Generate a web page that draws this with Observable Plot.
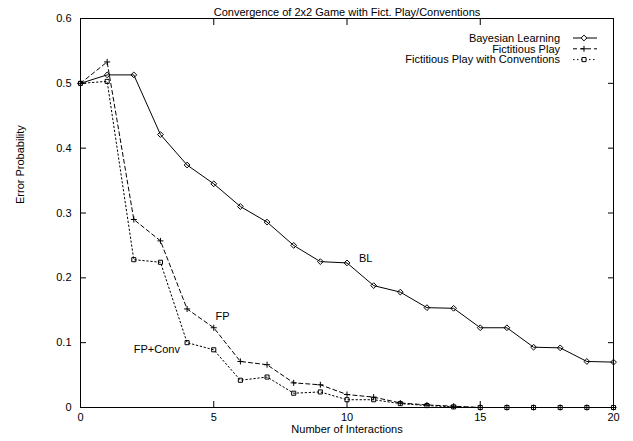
<!DOCTYPE html>
<html>
<head>
<meta charset="utf-8">
<script src="https://cdn.jsdelivr.net/npm/d3@7"></script>
<script src="https://cdn.jsdelivr.net/npm/@observablehq/plot@0.6"></script>
<style>
  html, body { margin: 0; padding: 0; background: #fff; }
  #chart svg { display: block; }
</style>
</head>
<body>
<div id="chart"></div>
<script>
const title = "Convergence of 2x2 Game with Fict. Play/Conventions";
const xLabel = "Number of Interactions";
const yLabel = "Error Probability";
const interactions = [0,1,2,3,4,5,6,7,8,9,10,11,12,13,14,15,16,17,18,19,20];
const bayesian = [0.5,0.513,0.513,0.421,0.374,0.345,0.310,0.286,0.250,0.225,0.223,0.188,0.178,0.154,0.153,0.123,0.123,0.093,0.092,0.071,0.070];
const fictitious = [0.5,0.533,0.290,0.257,0.152,0.123,0.071,0.066,0.038,0.035,0.020,0.016,0.007,0.004,0.002,0,0,0,0,0,0];
const fictConv = [0.5,0.503,0.228,0.224,0.100,0.089,0.042,0.047,0.022,0.024,0.012,0.012,0.006,0.003,0.001,0,0,0,0,0,0];
const seriesNames = ["Bayesian Learning", "Fictitious Play", "Fictitious Play with Conventions"];
const xTicks = [0,5,10,15,20];
const yTicks = [0,0.1,0.2,0.3,0.4,0.5,0.6];
const annotations = [
  {x: 10.45, y: 0.230, label: "BL"},
  {x: 5.07, y: 0.140, label: "FP"},
  {x: 2.0, y: 0.0895, label: "FP+Conv"}
];

const seriesValues = [bayesian, fictitious, fictConv];
const styles = [
  {dash: null, symbol: "diamond2", r: 2.6},
  {dash: "4,3", symbol: "plus", r: 2.1},
  {dash: "1.5,2.5", symbol: "square2", r: 2.6}
];
const data = [];
seriesNames.forEach((name, i) => {
  interactions.forEach((x, j) => data.push({series: name, x, y: seriesValues[i][j]}));
});

const font = "'Liberation Sans', Arial, Helvetica, sans-serif";

const lineMarks = [];
seriesNames.forEach((name, i) => {
  const d = data.filter(r => r.series === name);
  lineMarks.push(Plot.line(d, {x: "x", y: "y", stroke: "black", strokeWidth: 1, strokeDasharray: styles[i].dash}));
  lineMarks.push(Plot.dot(d, {x: "x", y: "y", symbol: () => styles[i].symbol, r: styles[i].r, stroke: "black", strokeWidth: 1, fill: "none"}));
});

function legendMark(index, scales, values, dims) {
  const svg = d3.create("svg:g");
  const right = dims.width - dims.marginRight;
  const top = dims.marginTop;
  seriesNames.forEach((name, i) => {
    const yy = top + 20 + i * 10.8;
    svg.append("text").attr("x", right - 53).attr("y", yy).attr("dy", "0.35em")
      .attr("text-anchor", "end").attr("font-size", 11).attr("font-family", font)
      .attr("fill", "black").text(name);
    const line = svg.append("line").attr("x1", right - 40).attr("x2", right - 16)
      .attr("y1", yy).attr("y2", yy).attr("stroke", "black").attr("stroke-width", 1);
    if (styles[i].dash) line.attr("stroke-dasharray", styles[i].dash);
    const sym = d3.symbol(
      i === 0 ? d3.symbolDiamond2 : i === 1 ? d3.symbolPlus : d3.symbolSquare2,
      Math.PI * styles[i].r * styles[i].r)();
    svg.append("path").attr("d", sym).attr("transform", `translate(${right - 29},${yy})`)
      .attr("fill", "white").attr("stroke", "black").attr("stroke-width", 1);
  });
  return svg.node();
}

const fmt = d => String(d);

const chart = Plot.plot({
  width: 633,
  height: 441,
  marginLeft: 80,
  marginRight: 20,
  marginTop: 18,
  marginBottom: 34,
  style: {fontFamily: font, fontSize: "11px", background: "white", color: "black"},
  x: {domain: [0, 20]},
  y: {domain: [0, 0.6]},
  marks: [
    Plot.frame({stroke: "black", strokeWidth: 1}),
    Plot.axisX(xTicks, {anchor: "bottom", tickSize: 0, tickPadding: 6, fontSize: 11, tickFormat: fmt, label: null}),
    Plot.axisX(xTicks, {anchor: "bottom", tickSize: -6, tickFormat: () => "", label: null}),
    Plot.axisX(xTicks, {anchor: "top", tickSize: -6, tickFormat: () => "", label: null}),
    Plot.axisY(yTicks, {anchor: "left", tickSize: 0, tickPadding: 9, fontSize: 11, tickFormat: fmt, label: null}),
    Plot.axisY(yTicks, {anchor: "left", tickSize: -6, tickFormat: () => "", label: null}),
    Plot.axisY(yTicks, {anchor: "right", tickSize: -6, tickFormat: () => "", label: null}),
    ...lineMarks,
    Plot.text(annotations, {x: "x", y: "y", text: "label", textAnchor: "start", fontSize: 11, fill: "black"}),
    Plot.text([title], {frameAnchor: "top", dy: -10, fontSize: 11, fill: "black"}),
    Plot.text([xLabel], {frameAnchor: "bottom", dy: 25, fontSize: 11, fill: "black"}),
    Plot.text([yLabel], {frameAnchor: "left", dx: -60, dy: -9, rotate: -90, fontSize: 11, fill: "black"}),
    legendMark
  ]
});
document.getElementById("chart").appendChild(chart);
</script>
</body>
</html>
